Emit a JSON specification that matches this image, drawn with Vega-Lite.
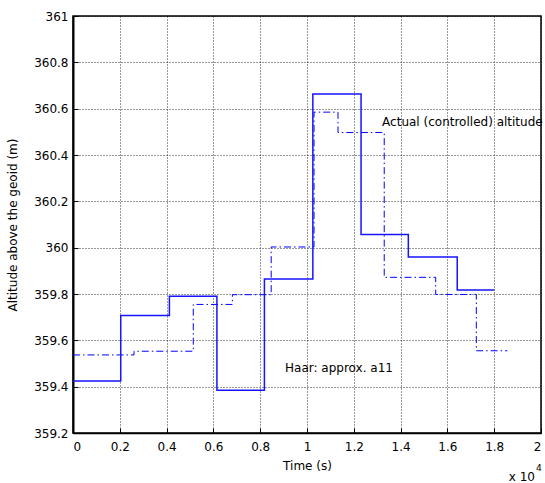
{
  "$schema": "https://vega.github.io/schema/vega-lite/v6.json",
  "width": 468,
  "height": 417,
  "autosize": {"type": "none"},
  "padding": {"left": 73, "top": 16, "right": 4, "bottom": 50},
  "background": "white",
  "config": {
    "view": {"stroke": "black", "strokeWidth": 1.5},
    "font": "DejaVu Sans",
    "axis": {
      "domainColor": "black",
      "tickColor": "black",
      "labelColor": "black",
      "titleColor": "black",
      "labelFont": "DejaVu Sans",
      "titleFont": "DejaVu Sans",
      "labelFontSize": 12,
      "titleFontSize": 12,
      "titleFontWeight": "normal",
      "gridColor": "black",
      "gridDash": [1, 2],
      "gridOpacity": 0.8,
      "gridWidth": 1
    }
  },
  "datasets": {
    "series": [
      {"t": 0, "alt": 359.425, "s": "actual"},
      {"t": 2040, "alt": 359.707, "s": "actual"},
      {"t": 4120, "alt": 359.79, "s": "actual"},
      {"t": 6150, "alt": 359.385, "s": "actual"},
      {"t": 8180, "alt": 359.865, "s": "actual"},
      {"t": 10250, "alt": 360.663, "s": "actual"},
      {"t": 12310, "alt": 360.057, "s": "actual"},
      {"t": 14330, "alt": 359.96, "s": "actual"},
      {"t": 16420, "alt": 359.817, "s": "actual"},
      {"t": 18000, "alt": 359.817, "s": "actual"},
      {"t": 0, "alt": 359.537, "s": "haar"},
      {"t": 2607, "alt": 359.553, "s": "haar"},
      {"t": 5140, "alt": 359.755, "s": "haar"},
      {"t": 6810, "alt": 359.797, "s": "haar"},
      {"t": 8470, "alt": 360.003, "s": "haar"},
      {"t": 10300, "alt": 360.585, "s": "haar"},
      {"t": 11325, "alt": 360.497, "s": "haar"},
      {"t": 13300, "alt": 359.872, "s": "haar"},
      {"t": 15500, "alt": 359.798, "s": "haar"},
      {"t": 17236, "alt": 359.555, "s": "haar"},
      {"t": 18560, "alt": 359.555, "s": "haar"}
    ],
    "notes": [
      {"t": 13210, "alt": 360.542, "label": "Actual (controlled) altitude"},
      {"t": 9060, "alt": 359.48, "label": "Haar: approx. a11"}
    ]
  },
  "layer": [
    {
      "data": {"name": "series"},
      "transform": [{"filter": "datum.s === 'haar'"}],
      "mark": {"type": "line", "interpolate": "step-after", "color": "#0000ff", "strokeWidth": 1, "strokeDash": [7, 3, 1.5, 3]},
      "encoding": {
        "x": {
          "field": "t", "type": "quantitative",
          "scale": {"domain": [0, 20000], "nice": false, "zero": false},
          "axis": {
            "title": "Time (s)",
            "values": [0, 2000, 4000, 6000, 8000, 10000, 12000, 14000, 16000, 18000, 20000],
            "labelExpr": "'' + (datum.value / 10000)",
            "grid": true,
            "tickSize": -5,
            "labelPadding": 13,
            "titlePadding": 8,
            "domainWidth": 1.5
          }
        },
        "y": {
          "field": "alt", "type": "quantitative",
          "scale": {"domain": [359.2, 361], "nice": false, "zero": false},
          "axis": {
            "title": "Altitude above the geoid (m)",
            "values": [359.2, 359.4, 359.6, 359.8, 360, 360.2, 360.4, 360.6, 360.8, 361],
            "format": "~g",
            "grid": true,
            "tickSize": -5,
            "labelPadding": 10,
            "titlePadding": 14,
            "domainWidth": 2
          }
        }
      }
    },
    {
      "data": {"name": "series"},
      "transform": [{"filter": "datum.s === 'actual'"}],
      "mark": {"type": "line", "interpolate": "step-after", "color": "#1414ff", "strokeWidth": 1.5},
      "encoding": {
        "x": {"field": "t", "type": "quantitative"},
        "y": {"field": "alt", "type": "quantitative"}
      }
    },
    {
      "data": {"name": "notes"},
      "mark": {"type": "text", "align": "left", "baseline": "middle", "fontSize": 12, "color": "black", "font": "DejaVu Sans"},
      "encoding": {
        "x": {"field": "t", "type": "quantitative"},
        "y": {"field": "alt", "type": "quantitative"},
        "text": {"field": "label"}
      }
    },
    {
      "data": {"values": [{"t": 19744, "alt": 359.01, "label": "x 10"}]},
      "mark": {"type": "text", "align": "right", "baseline": "middle", "fontSize": 12, "color": "black", "font": "DejaVu Sans", "clip": false},
      "encoding": {
        "x": {"field": "t", "type": "quantitative"},
        "y": {"field": "alt", "type": "quantitative"},
        "text": {"field": "label"}
      }
    },
    {
      "data": {"values": [{"t": 19790, "alt": 359.05, "label": "4"}]},
      "mark": {"type": "text", "align": "left", "baseline": "middle", "fontSize": 9, "color": "black", "font": "DejaVu Sans", "clip": false},
      "encoding": {
        "x": {"field": "t", "type": "quantitative"},
        "y": {"field": "alt", "type": "quantitative"},
        "text": {"field": "label"}
      }
    }
  ]
}
